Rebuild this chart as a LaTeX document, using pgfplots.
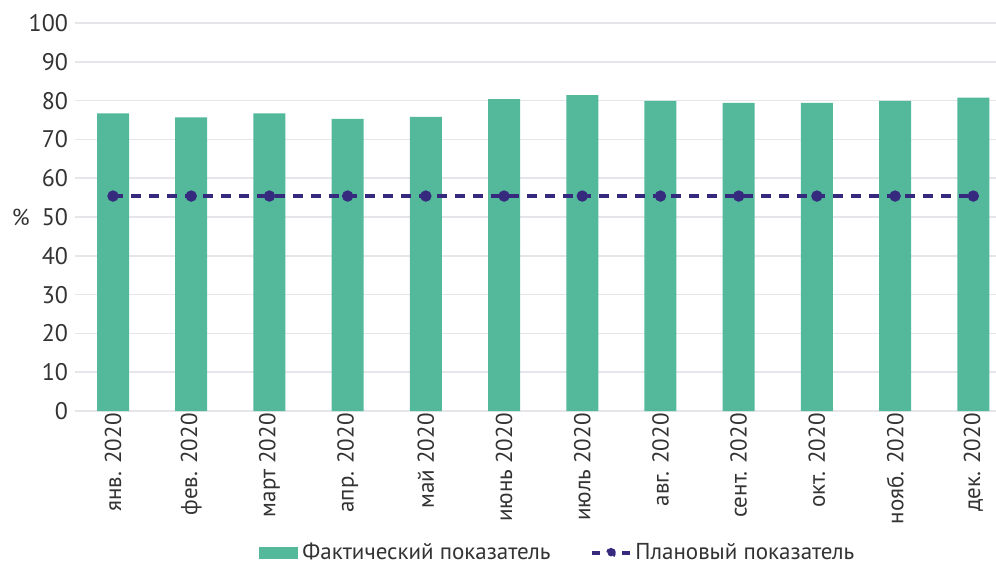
\documentclass[border=0pt]{standalone}
\usepackage{fontspec}
\setmainfont{PT Sans}
\usepackage{pgfplots}
\pgfplotsset{compat=1.18}
\definecolor{barg}{HTML}{54B99B}
\definecolor{planc}{HTML}{352A7E}
\definecolor{gridc}{HTML}{E6E6EA}
\definecolor{txt}{HTML}{333333}
\begin{document}
\begin{tikzpicture}
\begin{axis}[
  at={(0,0)}, anchor=south west,
  scale only axis, width=460.5pt, height=194pt,
  xmin=-0.486, xmax=11.29, ymin=0, ymax=100,
  ytick={0,10,...,100},
  xtick={0,...,11},
  xticklabels={янв. 2020,фев. 2020,март 2020,апр. 2020,май 2020,июнь 2020,июль 2020,авг. 2020,сент. 2020,окт. 2020,нояб. 2020,дек. 2020},
  xticklabel style={rotate=90, anchor=east, font=\fontsize{11.5}{13}\selectfont, text=txt, inner sep=1pt},
  yticklabel style={font=\fontsize{12}{14}\selectfont, text=txt},
  /pgf/number format/assume math mode=true,
  major tick length=0pt,
  axis lines*=left,
  y axis line style={draw=none},
  x axis line style={draw=gridc, line width=1pt, -},
  ymajorgrids, grid style={gridc, line width=0.8pt},
  ylabel={\%}, ylabel style={at={(axis description cs:-0.059,0.5)}, anchor=center, rotate=-90, font=\fontsize{11.5}{13}\selectfont, text=txt},
  legend style={at={(0.525,-0.366)}, anchor=center, draw=none, legend columns=2,
    font=\fontsize{11.5}{13}\selectfont, text=txt,
    /tikz/every even column/.append style={column sep=18pt}},
  clip=false,
]
\addplot[ybar, bar width=16pt, fill=barg, draw=none, area legend,
  legend image code/.code={\fill[barg] (0cm,-0.11cm) rectangle (0.7cm,0.11cm);}] coordinates {
(0,76.7) (1,75.7) (2,76.7) (3,75.3) (4,75.8) (5,80.4) (6,81.4) (7,79.9) (8,79.4) (9,79.4) (10,79.9) (11,80.8)};
\addlegendentry{Фактический показатель}
\addplot[planc, line width=1.6pt, dash pattern=on 5pt off 4pt, mark=*, mark size=2pt, mark options={solid},
  legend image code/.code={\draw[planc, line width=1.6pt] (0cm,0cm)--(0.14cm,0cm) (0.52cm,0cm)--(0.66cm,0cm); \fill[planc] (0.33cm,0cm) circle (1.7pt);}] coordinates {
(0,55.4) (1,55.4) (2,55.4) (3,55.4) (4,55.4) (5,55.4) (6,55.4) (7,55.4) (8,55.4) (9,55.4) (10,55.4) (11,55.4)};
\addlegendentry{Плановый показатель}
\end{axis}
\pgfresetboundingbox
\path (-37.5pt,-76.5pt) rectangle (460.5pt,205.5pt);
\end{tikzpicture}
\end{document}
